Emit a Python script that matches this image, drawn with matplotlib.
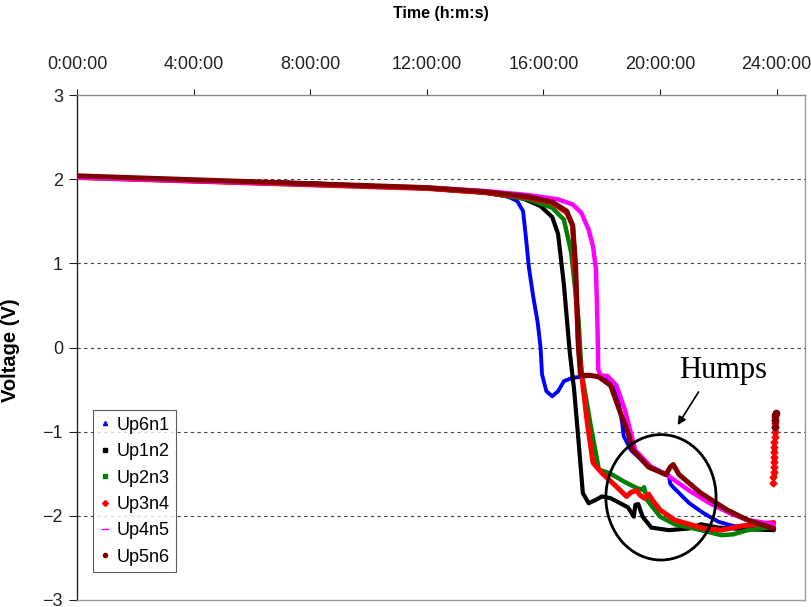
import matplotlib
matplotlib.use("Agg")
import matplotlib.pyplot as plt
from matplotlib.patches import Ellipse
from matplotlib.lines import Line2D

plt.rcParams['font.family'] = ['Liberation Sans', 'DejaVu Sans']

# ---- data (time in hours, voltage in V) ----
series_names = ["Up6n1", "Up1n2", "Up2n3", "Up3n4", "Up4n5", "Up5n6"]
series_colors = ["#0000ff", "#000000", "#008000", "#ff0000", "#ff00ff", "#800000"]
legend_markers = ["^", "s", "s", "D", "_", "o"]

t_up6n1 = [0, 4, 8, 12, 14, 14.8, 15.1, 15.3, 15.4, 15.5, 15.65, 15.8, 15.9, 15.95, 16.1, 16.3, 16.5,
           16.7, 17.0, 17.5, 18.0, 18.3, 18.5, 18.6, 18.7, 18.75, 19.0, 19.5, 20.0, 20.3, 20.35, 20.45,
           21.0, 21.5, 22.0, 22.5, 23.0, 23.9]
v_up6n1 = [2.02, 1.99, 1.95, 1.89, 1.84, 1.79, 1.74, 1.62, 1.30, 0.95, 0.60, 0.30, 0.0, -0.32, -0.52,
           -0.58, -0.52, -0.40, -0.36, -0.34, -0.34, -0.38, -0.50, -0.70, -0.90, -1.05, -1.22, -1.38,
           -1.47, -1.52, -1.62, -1.66, -1.85, -1.97, -2.07, -2.12, -2.14, -2.16]

t_up1n2 = [0, 8, 12, 14, 15.3, 15.9, 16.3, 16.5, 16.7, 16.9, 17.05, 17.2, 17.35, 17.55, 17.8, 18.0,
           18.3, 18.9, 19.1, 19.15, 19.25, 19.4, 19.7, 20.3, 21.0, 21.4, 22.0, 23.0, 23.9]
v_up1n2 = [2.02, 1.95, 1.89, 1.84, 1.77, 1.68, 1.55, 1.35, 0.75, -0.05, -0.50, -1.10, -1.73, -1.85,
           -1.81, -1.77, -1.79, -1.90, -2.01, -1.87, -1.86, -2.01, -2.14, -2.17, -2.15, -2.10, -2.14,
           -2.16, -2.17]

t_up2n3 = [0, 12, 14, 15.5, 16.3, 16.7, 16.95, 17.2, 17.3, 17.35, 17.6, 17.9, 18.3, 18.8, 19.2, 19.4,
           19.45, 19.55, 20.0, 20.5, 21.4, 22.1, 22.5, 23.0, 23.9]
v_up2n3 = [2.02, 1.89, 1.84, 1.76, 1.66, 1.52, 1.13, 0.33, -0.26, -0.38, -0.89, -1.45, -1.50, -1.60,
           -1.67, -1.69, -1.66, -1.81, -2.01, -2.10, -2.17, -2.23, -2.22, -2.17, -2.13]

t_up3n4 = [0, 12, 14, 15.5, 16.3, 16.8, 17.0, 17.1, 17.2, 17.3, 17.5, 17.7, 18.0, 18.4, 18.85, 19.0,
           19.2, 19.3, 19.45, 19.6, 19.75, 20.0, 20.5, 21.1, 21.5, 22.1, 22.8, 23.9]
v_up3n4 = [2.02, 1.89, 1.84, 1.78, 1.72, 1.60, 1.45, 0.80, 0.0, -0.30, -0.89, -1.37, -1.49, -1.62,
           -1.77, -1.72, -1.70, -1.75, -1.79, -1.74, -1.82, -1.93, -2.05, -2.11, -2.15, -2.17, -2.12,
           -2.08]

t_up4n5 = [0, 12, 14, 15.5, 16.5, 17.0, 17.3, 17.55, 17.7, 17.8, 17.85, 17.88, 17.95, 18.2, 18.5, 18.8,
           19.0, 19.15, 19.7, 20.3, 21.0, 21.7, 22.4, 23.0, 23.9]
v_up4n5 = [2.02, 1.90, 1.86, 1.81, 1.76, 1.70, 1.60, 1.40, 1.20, 0.93, 0.30, -0.26, -0.33, -0.34,
           -0.45, -0.75, -1.02, -1.22, -1.42, -1.53, -1.70, -1.85, -1.97, -2.05, -2.10]

t_up5n6 = [0, 12, 14, 15.5, 16.3, 16.8, 17.0, 17.1, 17.2, 17.27, 17.6, 17.9, 18.3, 18.6, 18.9, 19.05,
           19.6, 20.2, 20.35, 20.45, 20.55, 20.65, 21.4, 22.3, 23.0, 23.9]
v_up5n6 = [2.04, 1.90, 1.85, 1.79, 1.73, 1.62, 1.45, 1.00, 0.0, -0.33, -0.33, -0.35, -0.45, -0.74,
           -1.01, -1.21, -1.42, -1.51, -1.42, -1.39, -1.45, -1.51, -1.73, -1.93, -2.05, -2.15]

# recovery points after the end of discharge
rec_t_up2n3 = [23.90, 23.91, 23.92, 23.93, 23.94]
rec_v_up2n3 = [-1.50, -1.35, -1.20, -1.05, -0.90]
rec_t_up3n4 = [23.88, 23.885, 23.89, 23.895, 23.90, 23.905, 23.91, 23.915, 23.92, 23.925, 23.93,
               23.935, 23.94, 23.945, 23.95]
rec_v_up3n4 = [-1.61, -1.54, -1.48, -1.42, -1.36, -1.30, -1.24, -1.18, -1.12, -1.06, -1.00, -0.94,
               -0.90, -0.86, -0.83]
rec_t_up5n6 = [23.93, 23.94, 23.95, 23.96]
rec_v_up5n6 = [-0.95, -0.86, -0.80, -0.78]

x_ticks = [0, 4, 8, 12, 16, 20, 24]
x_tick_labels = ["0:00:00", "4:00:00", "8:00:00", "12:00:00", "16:00:00", "20:00:00", "24:00:00"]
y_ticks = [-3, -2, -1, 0, 1, 2, 3]

# ---- figure ----
fig = plt.figure(figsize=(8.12, 6.07), dpi=100)
ax = fig.add_axes([77 / 812, 1 - 600 / 607, (805 - 77) / 812, (600 - 95) / 607])

ts = [t_up6n1, t_up1n2, t_up2n3, t_up3n4, t_up4n5, t_up5n6]
vs = [v_up6n1, v_up1n2, v_up2n3, v_up3n4, v_up4n5, v_up5n6]
lws = [2.8, 3.0, 3.2, 3.6, 3.2, 3.6]
for t, v, c, lw in zip(ts, vs, series_colors, lws):
    ax.plot(t, v, color=c, lw=lw, solid_capstyle='round', solid_joinstyle='round', zorder=3)

ax.plot(rec_t_up2n3, rec_v_up2n3, ls='none', marker='s', ms=3.5, color="#008000", zorder=3)
ax.plot(rec_t_up3n4, rec_v_up3n4, ls='none', marker='D', ms=3.5, color="#ff0000", zorder=3)
ax.plot(rec_t_up5n6, rec_v_up5n6, ls='none', marker='o', ms=4.5, color="#800000", zorder=3)

ax.set_xlim(0, 24.97)
ax.set_ylim(-3, 3)

ax.xaxis.tick_top()
ax.xaxis.set_label_position('top')
ax.set_xticks(x_ticks)
ax.set_xticklabels(x_tick_labels)
ax.set_yticks(y_ticks)
ax.tick_params(axis='x', direction='out', length=4.5, width=0.8, pad=11, labelsize=13, colors='#222222')
ax.tick_params(axis='y', direction='out', length=6, width=0.8, pad=4, labelsize=13, colors='#222222')

ax.set_xlabel("Time (h:m:s)", fontsize=11.5, fontweight='bold')
ax.xaxis.set_label_coords(0.5, (600 - 18) / 505)
ax.set_ylabel("Voltage (V)", fontsize=14.5, fontweight='bold')
ax.yaxis.set_label_coords((20.5 - 77) / 728, (600 - 350) / 505)

for yv in [-2, -1, 0, 1, 2]:
    ax.axhline(yv, color='#444444', lw=0.8, ls=(0, (3, 3)), zorder=1)

ax.spines['left'].set_color('#222222')
ax.spines['top'].set_color('#888888')
ax.spines['right'].set_color('#999999')
ax.spines['bottom'].set_color('#999999')
for s in ax.spines.values():
    s.set_linewidth(1.0)

# annotation
ax.add_patch(Ellipse((20.03, -1.78), 3.78, 1.49, fill=False, edgecolor='black', lw=2, zorder=4))
ax.annotate('', xy=(20.55, -0.95), xytext=(21.37, -0.50),
            arrowprops=dict(arrowstyle='-|>', lw=1.2, color='black', mutation_scale=12), zorder=4)
ax.text(20.65, -0.36, "Humps", family=['Liberation Serif', 'DejaVu Serif'], fontsize=22,
        ha='left', va='baseline')

# legend
handles = [Line2D([], [], ls='none', marker=m, color=c, ms=(6 if m == '_' else 3))
           for m, c in zip(legend_markers, series_colors)]
leg = ax.legend(handles, series_names, loc='lower left',
                bbox_to_anchor=((93 - 77) / 728, (600 - 572) / 505), borderaxespad=0,
                fontsize=13, frameon=True, fancybox=False, edgecolor='#333333',
                handlelength=0.6, handletextpad=0.35, labelspacing=0.52, borderpad=0.35)
leg.get_frame().set_linewidth(0.8)

fig.savefig("out.png", dpi=100)
